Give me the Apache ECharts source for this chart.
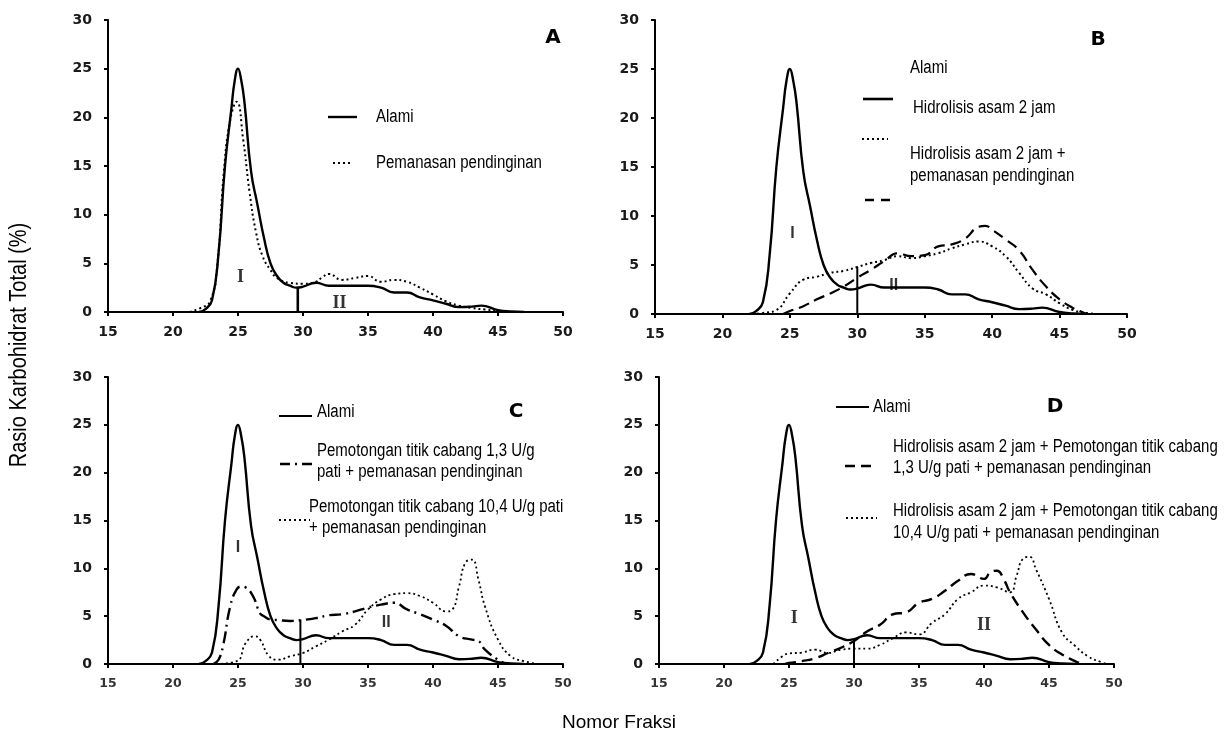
<!DOCTYPE html>
<html>
<head>
<meta charset="utf-8">
<script src="https://cdn.jsdelivr.net/npm/echarts@6/dist/echarts.min.js"></script>
<style>html,body{margin:0;padding:0;background:#fff}#c{width:1225px;height:733px}</style>
</head>
<body>
<div id="c"></div>
<script>
// ---- data (x = Nomor Fraksi, y = Rasio Karbohidrat Total %) ----
const alamiX = [22,22.5,23,23.5,24,24.5,24.75,25,25.25,25.5,26,26.5,27,27.5,28,28.5,29,29.5,30,31,32,33,34,35,36,37,38,39,40,41,42,43,43.7,45,46,47];
const alamiY = [0,0.3,1.2,6,15,21,23.8,25,23.8,21.5,14.5,11,7.6,5.0,3.7,3.0,2.7,2.5,2.6,3.0,2.7,2.7,2.7,2.7,2.5,2.0,2.0,1.5,1.2,0.85,0.5,0.55,0.65,0.2,0.05,0];

const aPemanasanX = [21.3,22.1,22.85,23.4,23.9,24.4,24.9,25.4,25.9,26.4,26.9,27.5,28,29,30,31,31.5,32,33,34,35,36,37,38,39,40,41,42,43,44,45,46];
const aPemanasanY = [0,0.4,1.1,4.7,14.2,19.7,21.6,17.7,12.2,8.1,5.7,4.3,3.5,3.0,2.9,3.1,3.6,3.9,3.3,3.5,3.7,3.1,3.3,3.1,2.5,1.8,1.1,0.65,0.4,0.25,0.1,0];

const bHidrolisisX = [22.2,23,24,25,26,27,28,29,30,31,32,33,34,35,36,37,38,39,40,41,42,43,44,45,46,47,48];
const bHidrolisisY = [0,0.1,0.4,2.1,3.5,3.8,4.2,4.4,4.8,5.2,5.5,5.9,5.7,5.9,6.2,6.7,7.1,7.4,6.9,5.9,4.2,2.6,2.0,1.1,0.4,0.1,0];

const bHidrolisisPPX = [24.5,25,26,27,28,29,30,31,32,33,34,35,36,37,38,39,39.5,40,41,42,43,44,45,46,46.5,47];
const bHidrolisisPPY = [0,0.3,0.8,1.5,2.1,2.8,3.7,4.5,5.4,6.2,5.9,6.0,6.9,7.1,7.7,8.9,9.0,8.6,7.6,6.5,4.5,2.8,1.5,0.6,0.3,0];

const cPot13X = [23.1,23.5,23.85,24.4,24.9,25.3,25.6,26.15,26.7,27,27.5,28,29,30,31,32,33,34,35,36,37,38,39,40,41,42,43,43.5,44,45,45.5,46];
const cPot13Y = [0,0.45,1.9,6.0,7.8,8.1,8.0,7.1,5.3,5.0,4.65,4.6,4.5,4.6,4.8,5.1,5.2,5.5,5.9,6.2,6.4,5.7,5.2,4.65,4.0,2.9,2.55,2.4,1.5,0.45,0.1,0];

const cPot104X = [23.3,24.9,25.6,26.3,26.7,27.4,28.1,29,30,31,32,33,34,35,36,37,38,39,40,41,41.5,42,42.5,43,43.5,44,45,46,47,48];
const cPot104Y = [0,0.3,2.2,2.9,2.55,0.8,0.45,0.8,1.15,1.85,2.55,3.4,4.1,5.7,6.75,7.3,7.4,7.1,6.4,5.5,5.7,8.1,10.6,10.9,8.8,6.0,2.55,0.8,0.3,0];

const dPot13X = [24.7,25,26,27,28,29,30,31,32,33,34,35,36,37,38,39,40,40.5,41,41.5,42,43,44,45,46,47,47.5];
const dPot13Y = [0,0.1,0.3,0.6,1.15,1.7,2.4,3.4,4.1,5.2,5.4,6.4,6.8,7.65,8.7,9.4,8.9,9.6,9.75,8.9,7.5,5.4,3.6,2.0,1.0,0.3,0];

const dPot104X = [23.8,24.5,25,26,27,28,29,30,31,32,33,34,35,36,37,38,39,40,41,42,42.5,43,43.5,44,45,46,47,48,49,49.5];
const dPot104Y = [0,0.8,1.1,1.2,1.5,1.15,1.5,1.6,1.6,2.0,2.7,3.3,3.1,4.3,5.2,6.8,7.5,8.2,8.0,7.5,9.2,11.0,11.2,9.9,6.8,3.3,1.9,0.8,0.2,0];

// fraction separating region I and II, and height of the separator, per panel A..D
const splitX = [29.6, 30, 29.8, 30];
const splitY = [2.6, 4.8, 4.65, 2.6];
// region label anchors per panel
const regionI = [[25.2,3.6],[25.2,8.2],[25.0,12.2],[25.4,4.8]];
const regionII = [[32.8,0.9],[32.7,2.9],[36.4,4.3],[40.0,4.0]];

const xTicks = {min: 15, max: 50, interval: 5};
const yTicks = {min: 0, max: 30, interval: 5};

// ---- chart ----
const zip = (xs, ys) => xs.map((x, i) => [x, ys[i]]);
const chart = echarts.init(document.getElementById('c'), null, {renderer: 'canvas'});

const grids = [
  {left: 108, top: 20, width: 455, height: 292},
  {left: 655, top: 20, width: 472, height: 294},
  {left: 108, top: 377, width: 455, height: 287},
  {left: 659, top: 377, width: 455, height: 287}
];
const tickFontA = {fontFamily: 'DejaVu Sans', fontWeight: 'bold', fontSize: 14, color: '#1a1a1a'};
const tickFontC = {fontFamily: 'DejaVu Sans', fontWeight: 'bold', fontSize: 12.5, color: '#333'};

const xAxes = grids.map((g, i) => ({
  type: 'value', gridIndex: i, min: xTicks.min, max: xTicks.max, interval: xTicks.interval,
  axisLine: {show: true, onZero: false, lineStyle: {color: '#000', width: 2}},
  axisTick: {show: true, length: 4, lineStyle: {color: '#000', width: 2}},
  splitLine: {show: false},
  axisLabel: Object.assign({margin: 13}, i < 2 ? tickFontA : tickFontC)
}));
const yAxes = grids.map((g, i) => ({
  type: 'value', gridIndex: i, min: yTicks.min, max: yTicks.max, interval: yTicks.interval,
  axisLine: {show: true, onZero: false, lineStyle: {color: '#000', width: 2}},
  axisTick: {show: true, length: 4, lineStyle: {color: '#000', width: 2}},
  splitLine: {show: false},
  axisLabel: Object.assign({margin: 16}, tickFontA)
}));

const SOLID = 'solid', DOT = [2, 3], DASH = [11, 6], DASHDOT = [12, 5, 2, 5];
function curve(i, xs, ys, dash, w) {
  return {
    type: 'line', xAxisIndex: i, yAxisIndex: i, data: zip(xs, ys),
    showSymbol: false, smooth: 0.5, silent: true,
    lineStyle: {color: '#000', width: w || 2.2, type: dash}
  };
}
const series = [];
for (let i = 0; i < 4; i++) series.push(curve(i, alamiX, alamiY, SOLID, 2.4));
series.push(curve(0, aPemanasanX, aPemanasanY, DOT, 2));
series.push(curve(1, bHidrolisisX, bHidrolisisY, DOT, 2));
series.push(curve(1, bHidrolisisPPX, bHidrolisisPPY, DASH, 2.2));
series.push(curve(2, cPot13X, cPot13Y, DASHDOT, 2.4));
series.push(curve(2, cPot104X, cPot104Y, DOT, 1.8));
series.push(curve(3, dPot13X, dPot13Y, DASH, 2.4));
series.push(curve(3, dPot104X, dPot104Y, DOT, 1.8));
for (let i = 0; i < 4; i++) {
  series.push({
    type: 'line', xAxisIndex: i, yAxisIndex: i, showSymbol: false, silent: true,
    data: [[splitX[i], 0], [splitX[i], splitY[i]]],
    lineStyle: {color: '#000', width: i === 0 ? 2.6 : 2}
  });
  const serif = (i === 0 || i === 3);
  series.push({
    type: 'scatter', xAxisIndex: i, yAxisIndex: i, symbolSize: 0, silent: true,
    data: [{name: 'I', value: regionI[i]}, {name: 'II', value: regionII[i]}],
    label: {show: true, position: 'inside', formatter: p => p.name,
      fontFamily: serif ? 'Liberation Serif' : 'Liberation Sans', fontWeight: 'bold',
      fontSize: serif ? 18 : 16, color: '#000'}
  });
}

const LF = 'Liberation Sans, Arial, sans-serif';
function txt(x, y, s) {
  return {type: 'text', x: x, y: y, scaleY: 1.2, silent: true,
    style: {text: s, font: '15px ' + LF, fill: '#000', textVerticalAlign: 'middle', verticalAlign: 'middle'}};
}
function seg(x1, x2, y, dash, w) {
  return {type: 'line', silent: true, shape: {x1: x1, y1: y, x2: x2, y2: y},
    style: {stroke: '#000', lineWidth: w || 2.2, lineDash: dash === SOLID ? null : dash}};
}
function letter(x, y, s) {
  return {type: 'text', x: x, y: y, silent: true,
    style: {text: s, font: 'bold 20px DejaVu Sans', fill: '#000', align: 'center', textAlign: 'center', verticalAlign: 'middle', textVerticalAlign: 'middle'}};
}
const graphic = [
  // A
  seg(328, 357, 117, SOLID, 2.4), txt(376, 117, 'Alami'),
  seg(333, 353, 163, DOT, 2), txt(376, 163, 'Pemanasan pendinginan'),
  letter(553, 38, 'A'),
  // B
  txt(910, 68, 'Alami'),
  seg(863, 893, 99, SOLID, 2.6), txt(913, 108, 'Hidrolisis asam 2 jam'),
  seg(862, 888, 139, DOT, 2), txt(910, 154, 'Hidrolisis asam 2 jam +'), txt(910, 176, 'pemanasan pendinginan'),
  seg(865, 891, 200, [9, 7], 2.4),
  letter(1098, 40, 'B'),
  // C
  seg(279, 312, 416, SOLID, 2), txt(317, 412, 'Alami'),
  seg(280, 312, 464, [10, 5, 2, 5], 2.4), txt(317, 451, 'Pemotongan titik cabang 1,3 U/g'), txt(317, 472, 'pati + pemanasan pendinginan'),
  seg(279, 310, 520, DOT, 1.8), txt(309, 507, 'Pemotongan titik cabang 10,4 U/g pati'), txt(309, 528, '+ pemanasan pendinginan'),
  letter(516, 412, 'C'),
  // D
  seg(836, 869, 407, SOLID, 2), txt(873, 407, 'Alami'),
  seg(845, 873, 466, [10, 6], 2.6), txt(893, 447, 'Hidrolisis asam 2 jam + Pemotongan titik cabang'), txt(893, 468, '1,3 U/g pati + pemanasan pendinginan'),
  seg(846, 877, 518, DOT, 1.8), txt(893, 511, 'Hidrolisis asam 2 jam + Pemotongan titik cabang'), txt(893, 533, '10,4 U/g pati + pemanasan pendinginan'),
  letter(1055, 407, 'D'),
  // axis titles
  {type: 'text', x: 20, y: 345, rotation: Math.PI / 2, scaleY: 1.15, silent: true,
    style: {text: 'Rasio Karbohidrat Total (%)', font: '20px Liberation Sans', fill: '#000', align: 'center', textAlign: 'center', verticalAlign: 'middle', textVerticalAlign: 'middle'}},
  {type: 'text', x: 619, y: 723, silent: true,
    style: {text: 'Nomor Fraksi', font: '19px Liberation Sans', fill: '#000', align: 'center', textAlign: 'center', verticalAlign: 'middle', textVerticalAlign: 'middle'}}
];

chart.setOption({
  animation: false,
  backgroundColor: '#fff',
  grid: grids,
  xAxis: xAxes,
  yAxis: yAxes,
  series: series,
  graphic: graphic
});
</script>
</body>
</html>
